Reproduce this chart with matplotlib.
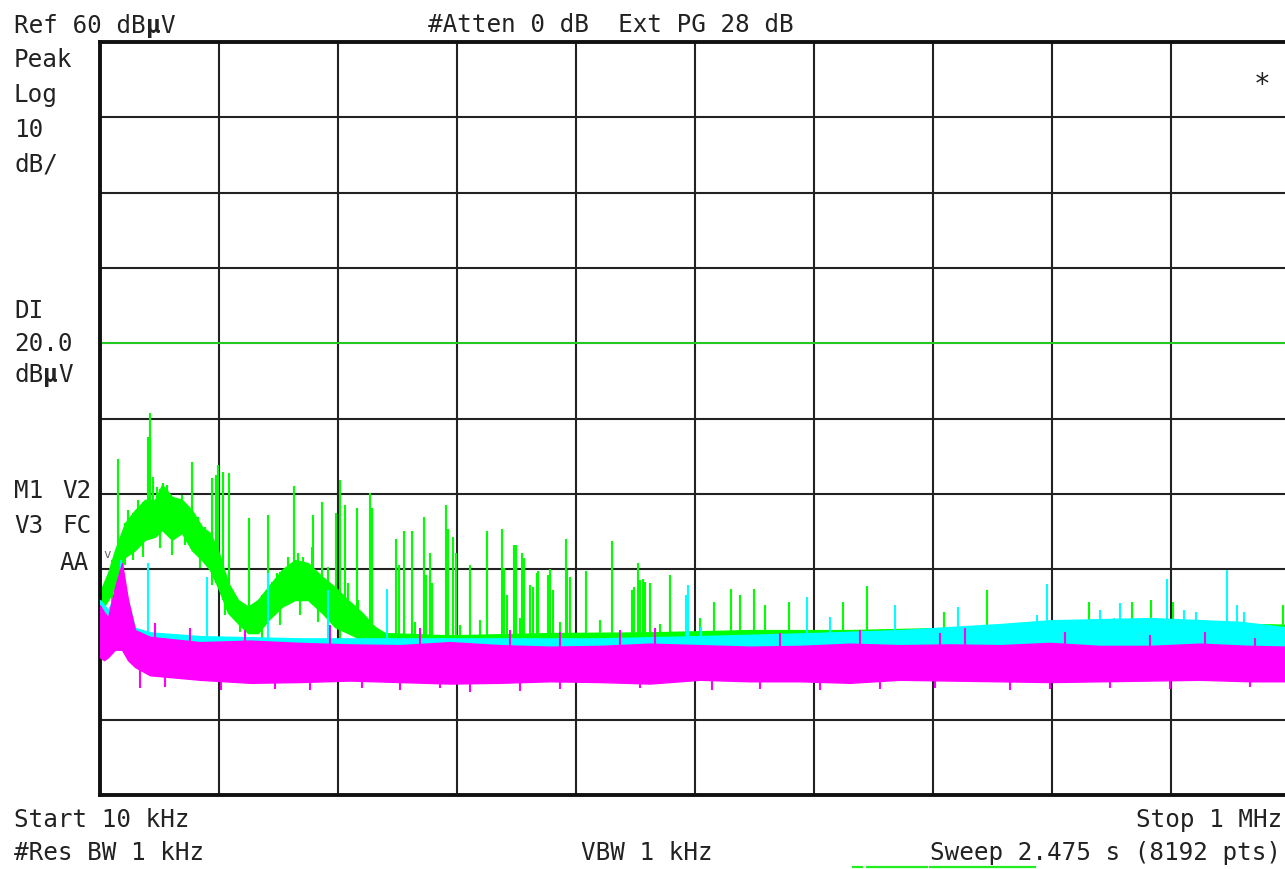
import numpy as np
import matplotlib.pyplot as plt
from matplotlib.lines import Line2D

# analyser settings
REF_DB = 60.0
DB_PER_DIV = 10.0
START_KHZ = 10.0
STOP_KHZ = 1000.0
DISPLAY_LINE_DB = 20.0

# trace 1 (green): noise band envelope, kHz / dBuV
grn_f = [10, 16.7, 22.5, 30.8, 39.1, 47.4, 55.8, 61.6, 69.9, 78.2, 86.5, 94.9, 101.5,
         108.2, 116.5, 124.8, 133.1, 141.4, 149.8, 161.4, 172.2, 183.0, 194.7, 205.5,
         216.3, 228.0, 238.8, 247.1, 301.2, 384.4, 467.6, 550.7, 633.9, 717.1, 800.3,
         883.5, 1000]
grn_hi = [-13.0, -10.5, -7.5, -3.9, -2.2, -0.8, -0.8, 1.2, -0.4, -0.8, -2.2, -4.4, -5.2,
          -7.5, -11.8, -14.1, -15.0, -14.1, -12.4, -10.1, -8.8, -9.2, -11.0, -12.4,
          -14.1, -15.8, -17.7, -18.5, -18.8, -18.5, -18.4, -18.1, -18.1, -17.8, -17.0,
          -17.0, -17.4]
grn_lo = [-15.7, -14.1, -12.4, -8.4, -7.5, -6.1, -5.7, -4.8, -6.1, -5.2, -7.5, -8.8, -10.1,
          -12.4, -15.8, -17.2, -18.5, -18.5, -16.8, -15.0, -14.1, -14.1, -15.8, -17.7,
          -18.5, -19.4, -20.3, -20.5, -20.5, -20.5, -20.5, -20.5, -20.3, -20.2, -20.1,
          -20.1, -20.2]
# trace 1 spurs (upward)
grn_spk_f = [25.0, 49.9, 51.6, 86.5, 103.2, 106.5, 108.2, 112.3, 117.3, 134.0, 149.8, 171.4,
             187.2, 194.7, 206.3, 209.7, 213.8, 223.8, 234.6, 236.3, 256.2, 258.7, 262.9,
             269.6, 279.5, 281.2, 284.5, 286.2, 297.8, 299.5, 303.7, 306.2, 317.8, 332.0,
             344.4, 346.1, 348.6, 354.4, 356.1, 361.1, 362.7, 367.7, 370.2, 373.5, 374.4,
             382.7, 384.4, 386.9, 397.7, 398.5, 401.0, 414.3, 435.9, 452.6, 454.2, 457.6,
             459.2, 461.7, 463.4, 467.5, 484.2, 520.8, 534.9, 542.4, 554.1, 563.2, 583.2,
             628.1, 648.1, 712.1, 747.9, 832.8, 868.5, 884.3, 902.6, 994.1,
             272.1, 309.5, 326.1, 359.4, 392.7, 426.0, 475.9, 509.1,
             33.3, 41.6, 54.1, 57.4, 62.4, 65.7, 72.4, 78.2, 82.4, 91.5, 97.4,
             153.1, 157.2, 166.4, 174.7, 178.9, 186.4, 199.7, 216.3, 224.6]
grn_spk_db = [4.6, 7.5, 10.7, 4.2, 2.1, 2.5, 3.8, 2.9, 2.8, -3.2, -2.8, 1.0,
              -2.8, -1.1, -2.5, 1.8, -1.5, -1.9, 0.1, -1.9, -6.0, -9.5, -4.9,
              -4.9, -3.1, -10.8, -7.9, -11.8, -1.5, -4.7, -5.7, -7.9, -9.5, -4.9,
              -4.7, -9.9, -13.4, -6.8, -6.8, -7.9, -8.5, -12.1, -12.4, -10.5, -10.3,
              -10.8, -10.0, -12.8, -6.0, -10.1, -11.0, -10.3, -6.3, -12.8, -12.4, -9.2,
              -11.4, -11.3, -11.7, -11.8, -10.8, -14.4, -12.6, -13.4, -12.6, -14.8, -14.4,
              -14.4, -12.2, -15.7, -12.8, -14.4, -14.4, -14.1, -14.4, -14.8,
              -17.0, -17.4, -16.8, -16.5, -17.0, -16.8, -17.3, -16.5,
              -2.2, -0.8, 2.2, 0.9, 1.4, 1.2, -0.8, -0.2, -1.8, -3.1, -4.4,
              -11.7, -10.5, -8.4, -7.9, -8.4, -7.1, -9.7, -11.8, -14.1]
# trace 1 dips below the band
grn_dn_f = [20.0, 30.8, 37.5, 45.8, 59.9, 69.9, 80.7, 93.2, 103.2, 114.0, 126.5, 144.8,
            159.7, 176.4, 191.4, 209.7]
grn_dn_db = [-14.8, -9.5, -8.8, -8.4, -7.2, -8.1, -6.8, -9.9, -12.1, -16.1, -18.4, -19.4,
             -17.4, -16.1, -17.0, -19.4]

# trace 2 (cyan)
cyn_f = [10, 16.7, 22.5, 28.3, 33.3, 39.1, 51.6, 93.2, 176.4, 259.6, 342.8, 426.0, 509.1,
         602.3, 675.5, 717.1, 758.7, 800.3, 883.5, 958.4, 1000]
cyn_hi = [-14.1, -15.4, -13.4, -12.8, -14.1, -17.8, -18.4, -18.9, -19.2, -19.2, -19.2, -19.2,
          -18.9, -18.5, -18.1, -17.7, -17.3, -16.8, -16.5, -17.0, -17.8]
cyn_lo = [-20.7, -21.4, -20.7, -20.7, -21.4, -22.3, -22.7, -22.7, -22.7, -22.7, -22.7, -22.7,
          -22.3, -22.1, -21.8, -21.5, -21.4, -21.0, -20.7, -21.0, -21.4]
cyn_spk_f = [27.5, 49.9, 99.0, 149.8, 199.7, 248.8, 497.5, 499.1, 598.2, 671.4, 723.8,
             797.8, 841.9, 858.6, 897.6, 947.6,
             510.0, 617.3, 789.5, 853.6, 911.8, 921.8, 955.9, 961.8]
cyn_spk_db = [-8.8, -9.2, -11.0, -10.5, -12.8, -12.6, -13.4, -12.1, -13.7, -14.8, -15.0,
              -12.0, -15.4, -14.5, -11.3, -10.1,
              -17.7, -16.4, -16.1, -16.5, -15.4, -15.7, -14.8, -15.7]

# trace 3 (magenta)
mag_f = [10, 13.3, 16.7, 22.5, 28.3, 33.3, 39.1, 51.6, 93.2, 135.0, 176.4, 218.0, 259.6,
         301.2, 342.8, 384.4, 426.0, 467.6, 509.1, 550.7, 592.3, 633.9, 675.5, 717.1,
         758.7, 800.3, 841.9, 883.5, 925.1, 966.7, 1000]
mag_hi = [-14.8, -15.7, -16.4, -12.4, -9.2, -14.1, -18.1, -19.0, -19.7, -19.5, -19.8, -20.0,
          -20.1, -19.7, -20.1, -20.3, -20.2, -19.9, -20.1, -20.3, -20.2, -19.9, -20.1, -20.0,
          -20.1, -19.8, -20.2, -20.2, -19.9, -20.2, -20.3]
mag_lo = [-21.7, -22.1, -21.7, -20.7, -20.7, -22.1, -23.0, -24.1, -24.7, -25.1, -25.0, -24.8,
          -25.0, -25.2, -25.1, -24.9, -25.0, -25.2, -24.7, -24.9, -24.9, -25.1, -24.7, -24.8,
          -24.9, -25.0, -24.9, -24.8, -24.7, -24.9, -24.9]
mag_up_f = [55.8, 84.9, 130.6, 201.3, 276.2, 351.1, 392.7, 442.6, 471.7, 575.7, 642.2,
            708.8, 729.6, 812.8, 883.5, 929.3, 970.9]
mag_up_db = [-17.2, -17.8, -18.1, -17.4, -17.8, -18.1, -18.4, -18.1, -17.8, -18.5, -18.1,
             -18.5, -17.8, -18.4, -18.8, -18.4, -19.2]
mag_dn_f = [43.3, 64.1, 110.7, 155.6, 184.7, 228.0, 259.6, 292.8, 317.8, 359.4, 392.7,
            459.2, 519.1, 559.1, 609.0, 658.9, 704.6, 767.0, 800.3, 850.2, 900.1, 966.7]
mag_dn_db = [-25.8, -25.7, -26.1, -25.9, -26.1, -25.8, -26.1, -25.8, -26.3, -26.2, -25.9,
             -25.8, -26.1, -25.9, -26.1, -25.9, -25.8, -26.1, -25.9, -25.8, -25.9, -25.7]

W, H, DPI = 1285, 869, 100
INK = '#222222'
MONO = 'DejaVu Sans Mono'
FS = 17.5
CW = 0.6021 * FS * DPI / 72  # px per character


def fx(px):
    return px / W


def fy(py):
    return 1 - py / H


fig = plt.figure(figsize=(W / DPI, H / DPI), dpi=DPI)
fig.patch.set_facecolor('white')
# plot area runs slightly past the right edge of the screen grab
ax = fig.add_axes([fx(100), fy(795), fx(1290) - fx(100), fy(42) - fy(795)])
ax.set_xlim(START_KHZ, STOP_KHZ)
ax.set_ylim(REF_DB - 10 * DB_PER_DIV, REF_DB)
ax.set_xticks(np.linspace(START_KHZ, STOP_KHZ, 11))
ax.set_yticks(np.arange(REF_DB - 10 * DB_PER_DIV, REF_DB + 1, DB_PER_DIV))
ax.tick_params(length=0, labelbottom=False, labelleft=False)
ax.grid(True, color=INK, lw=1.5)
ax.set_axisbelow(True)
for sp in ax.spines.values():
    sp.set_linewidth(2.8)
    sp.set_color('#111111')

ax.axhline(DISPLAY_LINE_DB, color='#22dd22', lw=1.3, zorder=1.5)


def draw_trace(f, hi, lo, spk_f, spk_db, color, z):
    ax.fill_between(f, lo, hi, facecolor=color, edgecolor=color, lw=1.0, zorder=z)
    base = np.interp(spk_f, f, lo)
    ax.vlines(spk_f, base, spk_db, color=color, lw=1.5, zorder=z)


def draw_dips(f, hi, dn_f, dn_db, color, z):
    ax.vlines(dn_f, np.interp(dn_f, f, hi), dn_db, color=color, lw=1.5, zorder=z)


draw_trace(grn_f, grn_hi, grn_lo, grn_spk_f, grn_spk_db, '#00ff00', 2)
draw_dips(grn_f, grn_hi, grn_dn_f, grn_dn_db, '#00ff00', 2)
draw_trace(cyn_f, cyn_hi, cyn_lo, cyn_spk_f, cyn_spk_db, '#00ffff', 3)
draw_trace(mag_f, mag_hi, mag_lo, mag_up_f, mag_up_db, '#ff00ff', 4)
draw_dips(mag_f, mag_hi, mag_dn_f, mag_dn_db, '#ff00ff', 4)


def put(x, y, s, ha='left'):
    """screen annotation; the micro sign is drawn bold like on the analyser"""
    if ha == 'right':
        x = x - len(s) * CW
    pos = x
    parts = s.split('µ')
    for i, part in enumerate(parts):
        if part:
            fig.text(fx(pos), fy(y), part, family=MONO, size=FS,
                     color=INK, va='baseline', ha='left')
        pos += len(part) * CW
        if i < len(parts) - 1:
            fig.text(fx(pos), fy(y), 'µ', family=MONO, size=FS,
                     weight='bold', color=INK, va='baseline', ha='left')
            pos += CW


put(14, 33, 'Ref 60 dBµV')
put(428, 32, '#Atten 0 dB  Ext PG 28 dB')
put(14, 67, 'Peak')
put(14, 102, 'Log')
put(14, 137, '10')
put(14, 171, 'dB/')
put(14, 318, 'DI')
put(14, 351, '20.0')
put(14, 382, 'dBµV')
put(14, 498, 'M1')
put(62, 498, 'V2')
put(14, 533, 'V3')
put(62, 533, 'FC')
put(60, 570, 'AA')
put(14, 827, 'Start 10 kHz')
put(14, 860, '#Res BW 1 kHz')
put(581, 860, 'VBW 1 kHz')
put(1282, 827, 'Stop 1 MHz', ha='right')
put(1281, 860, 'Sweep 2.475 s (8192 pts)', ha='right')

fig.text(fx(1262), fy(85), '*', family=MONO, size=20, color=INK, ha='center', va='center')
fig.text(fx(107), fy(555), 'v', family=MONO, size=9, color='#666666', ha='center', va='center')

# sweep progress bar under the sweep time
for x0, x1 in [(853, 862), (867, 927), (930, 933), (935, 1035)]:
    fig.add_artist(Line2D([fx(x0), fx(x1)], [fy(867), fy(867)], color='#22ee22', lw=1.6))

fig.savefig('out.png', dpi=DPI)
